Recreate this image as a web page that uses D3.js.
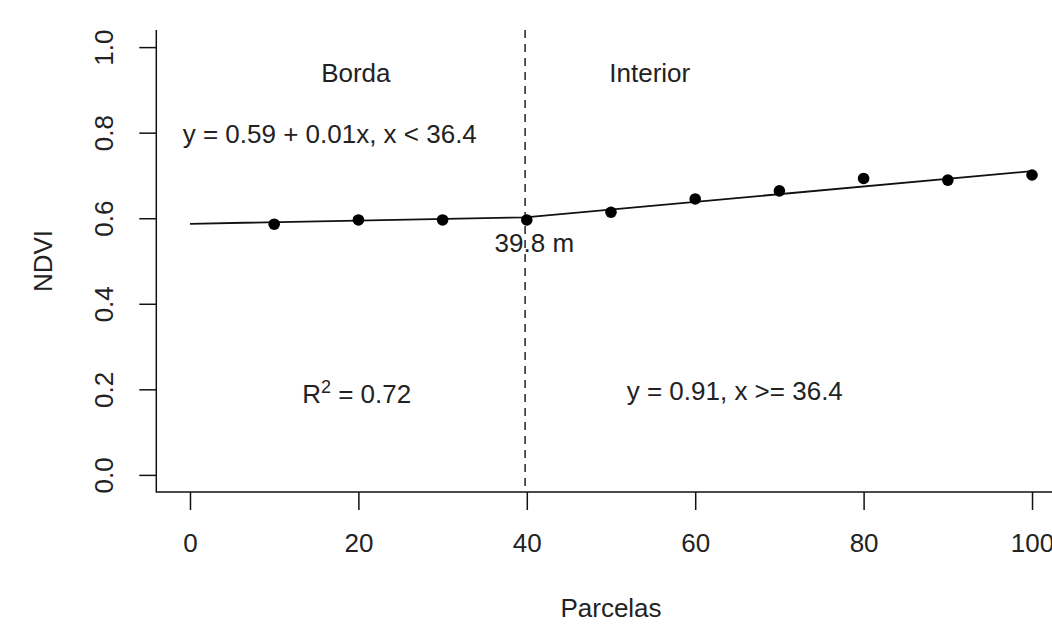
<!DOCTYPE html>
<html>
<head>
<meta charset="utf-8">
<script src="https://cdnjs.cloudflare.com/ajax/libs/d3/7.8.5/d3.min.js"></script>
<style>
  body { margin: 0; background: #fff; }
  text { font-family: "Liberation Sans", Arial, sans-serif; fill: #222; }
</style>
</head>
<body>
<svg></svg>
<script>
// data
const parcelas = [10, 20, 30, 40, 50, 60, 70, 80, 90, 100];
const ndvi = [0.586, 0.596, 0.596, 0.596, 0.614, 0.645, 0.664, 0.693, 0.689, 0.701];

// segmented fit (breakpoint at 39.8)
const fitX = [0, 39.8, 100];
const fitY = [0.587, 0.602, 0.710];
const breakpoint = 39.8;

const xTicks = [0, 20, 40, 60, 80, 100];
const yTicks = [0, 0.2, 0.4, 0.6, 0.8, 1.0];

const notes = [
  { text: 'Borda', x: 19.7, y: 0.94 },
  { text: 'Interior', x: 54.6, y: 0.94 },
  { text: 'y = 0.59 + 0.01x, x < 36.4', x: 16.6, y: 0.797 },
  { text: 'y = 0.91, x >= 36.4', x: 64.7, y: 0.196 },
  { text: '39.8 m', x: 40.9, y: 0.543 }
];
const r2 = { x: 19.8, y: 0.19 };

const width = 1052, height = 630;
const svg = d3.select('svg').attr('width', width).attr('height', height);

const x = d3.scaleLinear().domain([-4, 104]).range([156.3, 1065.7]);
const y = d3.scaleLinear().domain([-0.04, 1.04]).range([492, 30]);

// box (bty = "l")
svg.append('path')
  .attr('d', `M${x(-4)},${y(1.04)}V${y(-0.04)}H${x(104)}`)
  .attr('fill', 'none').attr('stroke', '#111').attr('stroke-width', 1.5);

// x axis
const gx = svg.append('g')
  .attr('transform', `translate(0,${y(-0.04)})`)
  .call(d3.axisBottom(x).tickValues(xTicks).tickSize(18).tickPadding(24).tickFormat(d3.format('d')));
gx.select('.domain').remove();
gx.selectAll('line').attr('stroke', '#111').attr('stroke-width', 1.5);
gx.selectAll('text').attr('font-size', 26).attr('fill', '#222');

// y axis, labels rotated like R
const gy = svg.append('g')
  .attr('transform', `translate(${x(-4)},0)`)
  .call(d3.axisLeft(y).tickValues(yTicks).tickSize(17).tickFormat(d3.format('.1f')));
gy.select('.domain').remove();
gy.selectAll('line').attr('stroke', '#111').attr('stroke-width', 1.5);
gy.selectAll('text')
  .attr('font-size', 26).attr('fill', '#222')
  .attr('x', null).attr('dy', '0.35em')
  .attr('text-anchor', 'middle')
  .attr('transform', 'translate(-52,0) rotate(-90)');

// breakpoint line
svg.append('line')
  .attr('x1', x(breakpoint)).attr('x2', x(breakpoint))
  .attr('y1', y(1.04)).attr('y2', y(-0.04))
  .attr('stroke', '#222').attr('stroke-width', 1.5)
  .attr('stroke-dasharray', '8,6');

// fitted line
const line = d3.line().x((d, i) => x(d)).y((d, i) => y(fitY[i]));
svg.append('path')
  .datum(fitX)
  .attr('d', line)
  .attr('fill', 'none').attr('stroke', '#111').attr('stroke-width', 1.8);

// points
svg.selectAll('circle').data(parcelas)
  .enter().append('circle')
  .attr('cx', d => x(d))
  .attr('cy', (d, i) => y(ndvi[i]))
  .attr('r', 5.8)
  .attr('fill', '#000');

// annotations
svg.selectAll('text.note').data(notes)
  .enter().append('text')
  .attr('class', 'note')
  .attr('x', d => x(d.x))
  .attr('y', d => y(d.y))
  .attr('dy', '0.35em')
  .attr('text-anchor', 'middle')
  .attr('font-size', 26)
  .text(d => d.text);

const rt = svg.append('text')
  .attr('x', x(r2.x)).attr('y', y(r2.y))
  .attr('dy', '0.35em')
  .attr('text-anchor', 'middle')
  .attr('font-size', 26);
rt.append('tspan').text('R');
rt.append('tspan').attr('font-size', 18).attr('dy', '-0.55em').text('2');
rt.append('tspan').attr('dy', '0.4em').text(' = 0.72');

// axis titles
svg.append('text')
  .attr('x', (x(-4) + x(104)) / 2).attr('y', 617)
  .attr('text-anchor', 'middle').attr('font-size', 26)
  .text('Parcelas');

svg.append('text')
  .attr('transform', `translate(52,${(y(-0.04) + y(1.04)) / 2}) rotate(-90)`)
  .attr('text-anchor', 'middle').attr('font-size', 26)
  .text('NDVI');
</script>
</body>
</html>
